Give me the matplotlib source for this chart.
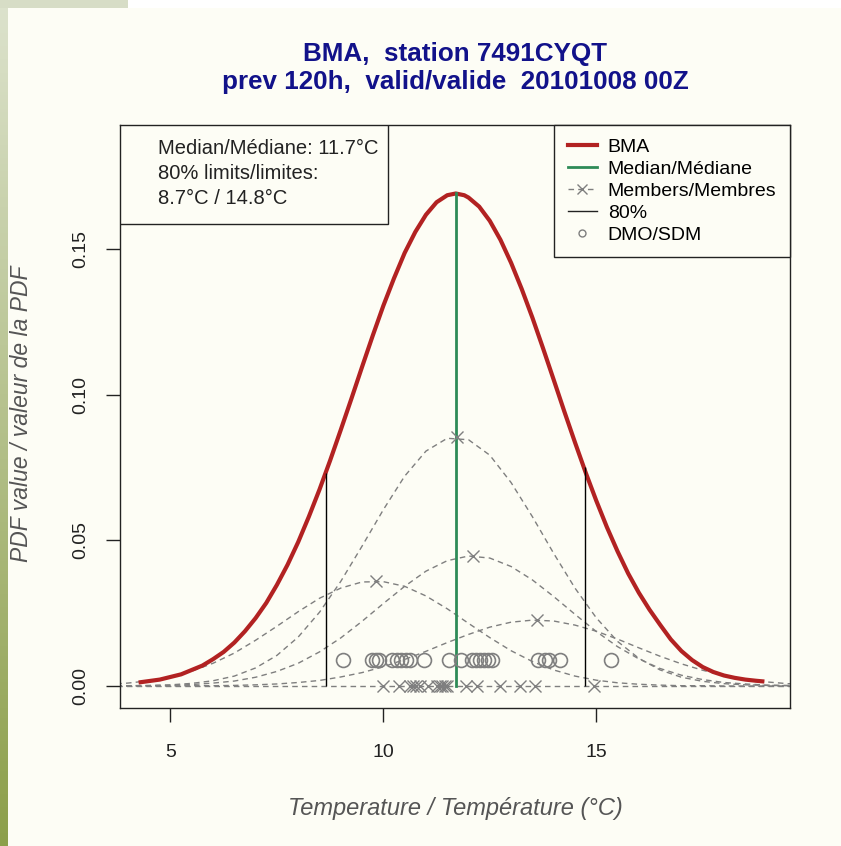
import numpy as np
import matplotlib
matplotlib.use("Agg")
import matplotlib.pyplot as plt
from matplotlib.lines import Line2D
from matplotlib.patches import Rectangle
from matplotlib.colors import LinearSegmentedColormap

plt.rcParams['font.family'] = ['Liberation Sans', 'DejaVu Sans']

# --- data ---
TITLE_1 = "BMA,  station 7491CYQT"
TITLE_2 = "prev 120h,  valid/valide  20101008 00Z"

# BMA pdf
BMA_T = [4.3, 4.5, 4.75, 5.0, 5.25, 5.5, 5.75, 6.0, 6.25, 6.5, 6.75, 7.0, 7.25, 7.5,
         7.75, 8.0, 8.25, 8.5, 8.75, 9.0, 9.25, 9.5, 9.75, 10.0, 10.25, 10.5, 10.75,
         11.0, 11.25, 11.5, 11.7, 11.9, 12.0, 12.25, 12.5, 12.75, 13.0, 13.25, 13.5,
         13.75, 14.0, 14.25, 14.5, 14.75, 15.0, 15.25, 15.5, 15.75, 16.0, 16.25,
         16.5, 16.75, 17.0, 17.25, 17.5, 17.75, 18.0, 18.25, 18.5, 18.75, 18.9]
BMA_PDF = [0.0013, 0.0017, 0.0022, 0.0031, 0.0040, 0.0055, 0.0070, 0.0092, 0.0117,
           0.0149, 0.0188, 0.0233, 0.0285, 0.0347, 0.0416, 0.0494, 0.0581, 0.0674,
           0.0774, 0.0879, 0.0986, 0.1095, 0.1202, 0.1305, 0.1399, 0.1486, 0.1558,
           0.1617, 0.1660, 0.1684, 0.1690, 0.1684, 0.1676, 0.1645, 0.1596, 0.1531,
           0.1452, 0.1362, 0.1264, 0.1159, 0.1051, 0.0942, 0.0836, 0.0733, 0.0636,
           0.0545, 0.0462, 0.0386, 0.0320, 0.0262, 0.0210, 0.0160, 0.0120, 0.0089,
           0.0065, 0.0048, 0.0036, 0.0028, 0.0022, 0.0018, 0.0016]

# weighted member pdfs
MEMBER_T = [3.5, 4.0, 4.5, 5.0, 5.5, 6.0, 6.5, 7.0, 7.5, 8.0, 8.5, 9.0, 9.5, 10.0,
            10.5, 11.0, 11.5, 12.0, 12.5, 13.0, 13.5, 14.0, 14.5, 15.0, 15.5, 16.0,
            16.5, 17.0, 17.5, 18.0, 18.5, 19.0, 19.5, 20.0]
MEMBER_A = [0.0000, 0.0001, 0.0002, 0.0004, 0.0009, 0.0018, 0.0034, 0.0062, 0.0105,
            0.0168, 0.0253, 0.0359, 0.0480, 0.0605, 0.0720, 0.0806, 0.0850, 0.0845,
            0.0792, 0.0698, 0.0581, 0.0455, 0.0336, 0.0234, 0.0153, 0.0095, 0.0055,
            0.0030, 0.0016, 0.0008, 0.0004, 0.0002, 0.0001, 0.0000]
MEMBER_B = [0.0005, 0.0010, 0.0018, 0.0031, 0.0051, 0.0078, 0.0113, 0.0157, 0.0205,
            0.0255, 0.0301, 0.0336, 0.0357, 0.0358, 0.0342, 0.0309, 0.0265, 0.0215,
            0.0166, 0.0121, 0.0084, 0.0055, 0.0034, 0.0020, 0.0011, 0.0006, 0.0003,
            0.0001, 0.0001, 0.0000, 0.0000, 0.0000, 0.0000, 0.0000]
MEMBER_C = [0.0000, 0.0001, 0.0001, 0.0002, 0.0005, 0.0010, 0.0017, 0.0030, 0.0050,
            0.0078, 0.0117, 0.0165, 0.0222, 0.0283, 0.0342, 0.0394, 0.0430, 0.0446,
            0.0439, 0.0410, 0.0364, 0.0307, 0.0246, 0.0187, 0.0135, 0.0093, 0.0060,
            0.0037, 0.0022, 0.0012, 0.0007, 0.0003, 0.0002, 0.0001]
MEMBER_D = [0.0000, 0.0000, 0.0000, 0.0000, 0.0001, 0.0001, 0.0002, 0.0004, 0.0007,
            0.0012, 0.0019, 0.0031, 0.0046, 0.0066, 0.0091, 0.0119, 0.0149, 0.0177,
            0.0202, 0.0219, 0.0226, 0.0223, 0.0209, 0.0188, 0.0161, 0.0131, 0.0102,
            0.0076, 0.0054, 0.0036, 0.0023, 0.0014, 0.0008, 0.0005]
MEMBER_PEAK_T = [11.72, 9.82, 12.10, 13.62]
MEMBER_PEAK_PDF = [0.0854, 0.0360, 0.0446, 0.0226]
# members with (almost) zero weight: marked at their mean
ZERO_MEANS = [9.98, 10.37, 10.62, 10.70, 10.77, 10.85, 11.05, 11.25, 11.32, 11.38,
              11.44, 11.50, 11.93, 12.20, 12.75, 13.20, 13.55, 14.95]

# raw model output (DMO / SDM)
DMO_T = [9.05, 9.73, 9.82, 9.89, 10.20, 10.32, 10.41, 10.53, 10.63, 10.96, 11.54,
         11.82, 12.08, 12.18, 12.27, 12.36, 12.46, 12.55, 13.63, 13.79, 13.88,
         14.14, 15.34]
DMO_Y = 0.0089

MEDIAN = 11.7
MEDIAN_PDF = 0.169
LIMITS = [8.66, 14.74]
LIMIT_PDF = [0.073, 0.075]

X_TICKS = [5, 10, 15]
Y_TICKS = [0.00, 0.05, 0.10, 0.15]
Y_TICK_LABELS = ["0.00", "0.05", "0.10", "0.15"]

INFO_LINES = ["Median/Médiane: 11.7°C", "80% limits/limites:", "8.7°C / 14.8°C"]
LEGEND_LABELS = ["BMA", "Median/Médiane", "Members/Membres", "80%", "DMO/SDM"]

BG = "#FDFDF5"
GREY = "#7F7F7F"
RED = "#B22222"
GREEN = "#2E8B57"
NAVY = "#12128A"

fig = plt.figure(figsize=(8.41, 8.46), dpi=100, facecolor=BG)

# page decoration: green gradient strip on the left, white band on top
strip = fig.add_axes([0, 0, 8 / 841, 838 / 846])
strip.axis("off")
strip.imshow(np.linspace(0, 1, 256).reshape(-1, 1), aspect="auto",
             cmap=LinearSegmentedColormap.from_list("strip", ["#DCE2CC", "#8C9F4A"]))
fig.patches.append(Rectangle((0, 838 / 846), 1, 8 / 846, transform=fig.transFigure,
                             facecolor="white", edgecolor="none"))
fig.patches.append(Rectangle((0, 838 / 846), 128 / 841, 8 / 846, transform=fig.transFigure,
                             facecolor="#D7DDC6", edgecolor="none"))

ax = fig.add_axes([120 / 841, 1 - 708 / 846, 670 / 841, 583 / 846])
ax.set_facecolor(BG)

dash = (0, (4, 3))
for pdf in [MEMBER_A, MEMBER_B, MEMBER_C, MEMBER_D]:
    ax.plot(MEMBER_T, pdf, color=GREY, lw=1, ls=dash)
ax.plot([MEMBER_T[0], MEMBER_T[-1]], [0, 0], color=GREY, lw=1, ls=dash)

ax.plot(BMA_T, BMA_PDF, color=RED, lw=3, solid_joinstyle="round")
ax.plot([MEDIAN, MEDIAN], [0, MEDIAN_PDF], color=GREEN, lw=2)
ax.vlines(LIMITS, 0, LIMIT_PDF, color="black", lw=1)

ax.plot(MEMBER_PEAK_T, MEMBER_PEAK_PDF, ls="none", marker="x", ms=9, mew=1, color=GREY)
ax.plot(ZERO_MEANS, [0] * len(ZERO_MEANS), ls="none", marker="x", ms=9, mew=1, color=GREY)
ax.plot(DMO_T, [DMO_Y] * len(DMO_T), ls="none", marker="o", ms=10, mfc="none",
        mec=GREY, mew=1.2)

ax.set_xlim(3.815, 19.55)
ax.set_ylim(-0.00755, 0.1925)
ax.set_xticks(X_TICKS)
ax.set_yticks(Y_TICKS)
ax.set_yticklabels(Y_TICK_LABELS, rotation=90, va="center")
ax.tick_params(direction="out", length=10, width=1, labelsize=14, colors="#222222")
ax.tick_params(axis="x", pad=16)
ax.tick_params(axis="y", pad=12)
for s in ax.spines.values():
    s.set_color("#222222")
    s.set_linewidth(1)

# text box in the upper-left corner
ax.add_patch(Rectangle((0, 0.830), 0.4, 0.170, transform=ax.transAxes,
                       facecolor=BG, edgecolor="#222222", lw=1, zorder=5))
for i, line in enumerate(INFO_LINES):
    ax.text(0.0567, 0.9605 - i * 0.0429, line, transform=ax.transAxes, fontsize=14.5,
            va="center", ha="left", color="#222222", zorder=6)

handles = [
    Line2D([], [], color=RED, lw=3),
    Line2D([], [], color=GREEN, lw=2),
    Line2D([], [], color=GREY, lw=1, ls=dash, marker="x", ms=7),
    Line2D([], [], color="#222222", lw=1),
    Line2D([], [], ls="none", marker="o", ms=5, mfc="none", mec=GREY),
]
leg = ax.legend(handles, LEGEND_LABELS, loc="upper right", bbox_to_anchor=(1, 1),
                borderaxespad=0, fancybox=False, edgecolor="#222222", framealpha=1,
                facecolor=BG, fontsize=14, handlelength=1.5, handletextpad=0.55,
                labelspacing=0.22, borderpad=0.7, numpoints=1)
leg.get_frame().set_linewidth(1)

fig.text(455 / 841, 1 - 61 / 846, TITLE_1, ha="center", va="baseline",
         fontsize=18.7, fontweight="bold", color=NAVY)
fig.text(455 / 841, 1 - 89 / 846, TITLE_2, ha="center", va="baseline",
         fontsize=18.7, fontweight="bold", color=NAVY)
fig.text(455 / 841, 1 - 808 / 846, "Temperature / Température (°C)", ha="center",
         va="center", fontsize=17, style="italic", color="#555555")
fig.text(22 / 841, 1 - 414 / 846, "PDF value / valeur de la PDF", ha="center",
         va="center", rotation=90, fontsize=16.5, style="italic", color="#555555")

fig.savefig("out.png", dpi=100, facecolor=fig.get_facecolor())
